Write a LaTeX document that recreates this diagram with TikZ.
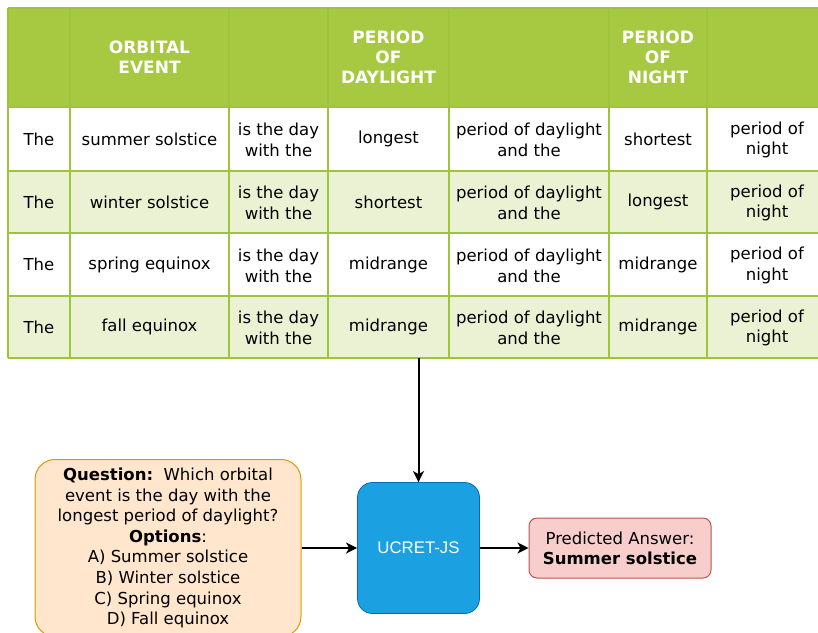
\documentclass[tikz,border=0pt]{standalone}
\usepackage{fontspec}
\setmainfont{DejaVu Sans}
\newfontfamily\arialfont{Liberation Sans}
\usetikzlibrary{arrows.meta}
\definecolor{hdrgreen}{HTML}{A7C942}
\definecolor{altgreen}{HTML}{EAF2D3}
\definecolor{gridgreen}{HTML}{9DC43A}
\definecolor{qfill}{HTML}{FFE6CC}
\definecolor{qdraw}{HTML}{D79B00}
\definecolor{mfill}{HTML}{1BA1E2}
\definecolor{mdraw}{HTML}{006EAF}
\definecolor{afill}{HTML}{F8CECC}
\definecolor{adraw}{HTML}{B85450}
\begin{document}
\begin{tikzpicture}[x=1pt,y=-1pt,
  txt/.style={inner sep=0pt, align=center, font=\fontsize{16.5}{20.8}\selectfont},
  hdr/.style={inner sep=0pt, align=center, text=white, font=\fontsize{17}{19.8}\selectfont\bfseries},
  grid/.style={draw=gridgreen, line width=1.2pt},
  qbox/.style={draw=qdraw, fill=qfill, line width=1pt, rounded corners=20pt,
    minimum width=266pt, minimum height=177pt, inner sep=0pt, align=center,
    font=\fontsize{16.5}{20.6}\selectfont},
  model/.style={draw=mdraw, fill=mfill, line width=0.8pt, rounded corners=15pt,
    minimum width=122pt, minimum height=131pt, inner sep=0pt, text=white,
    font=\arialfont\fontsize{16.8}{19}\selectfont},
  ansbox/.style={draw=adraw, fill=afill, line width=1pt, rounded corners=8pt,
    minimum width=182pt, minimum height=60pt, inner sep=0pt, align=center,
    font=\fontsize{16.5}{20}\selectfont},
  arr/.style={line width=2pt, -{Stealth[length=11pt,width=11pt,inset=3pt]}}]
\useasboundingbox (0,0) rectangle (818,632);
\clip (0,0) rectangle (818,632);

% table backgrounds
\fill[hdrgreen] (8,8) rectangle (827,107);
\fill[white] (8,107) rectangle (827,171);
\fill[altgreen] (8,171) rectangle (827,233);
\fill[white] (8,233) rectangle (827,296);
\fill[altgreen] (8,296) rectangle (827,358);

% table rules
\foreach \x in {8,70,229,328,449,609,707,827}
  \draw[grid] (\x,8) -- (\x,358);
\foreach \y in {8,107,171,233,296,358}
  \draw[grid] (8,\y) -- (827,\y);

% header
\node[hdr] (h2) at (149.5,57.5) {ORBITAL\\EVENT};
\node[hdr] (h4) at (388.5,57.5) {PERIOD\\OF\\DAYLIGHT};
\node[hdr] (h6) at (658,57.5) {PERIOD\\OF\\NIGHT};

% body rows
\foreach \y/\ev/\da/\ni [count=\i] in {139/summer solstice/longest/shortest,
    202/winter solstice/shortest/longest,
    264.5/spring equinox/midrange/midrange,
    327/fall equinox/midrange/midrange} {
  \node[txt] (r\i-1) at (39,\y) {The};
  \node[txt] (r\i-2) at (149.5,\y) {\ev};
  \node[txt] (r\i-3) at (278.5,\y+1) {is the day\\with the};
  \node[txt] (r\i-4) at (388.5,\y) {\da};
  \node[txt] (r\i-5) at (529,\y+1) {period of daylight\\and the};
  \node[txt] (r\i-6) at (658,\y) {\ni};
  \node[txt] (r\i-7) at (767,\y+1) {period of\\night};
}
\coordinate (tb) at (418.5,358);

% pipeline
\node[qbox] (q) at (168,548) {\textbf{Question:}\ \ Which orbital\\event is the day with the\\longest period of daylight?\\\textbf{Options}:\\A) Summer solstice\\B) Winter solstice\\C) Spring equinox\\D) Fall equinox};
\node[model] (m) at (418.5,548) {UCRET-JS};
\node[ansbox] (a) at (620,548) {Predicted Answer:\\\textbf{Summer solstice}};

\draw[arr] (tb) -- (m.north);
\draw[arr] (q.east) -- (m.west);
\draw[arr] (m.east) -- (a.west);
\end{tikzpicture}
\end{document}
